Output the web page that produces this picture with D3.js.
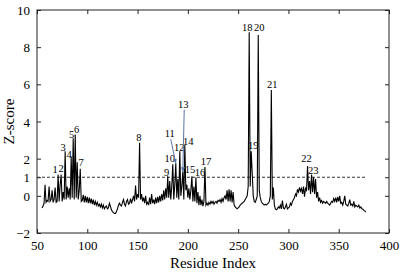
<!DOCTYPE html>
<html>
<head>
<meta charset="utf-8">
<script src="https://cdn.jsdelivr.net/npm/d3@7"></script>
<style>
  body { margin: 0; background: #fff; }
</style>
</head>
<body>
<svg id="chart"></svg>
<script>
const width = 401, height = 274
const serif = "'Liberation Serif'"

// z-score for each residue, starting at residue 55
const firstResidue = 55
const zscore = [
  -0.65,-0.55,-0.4,0.6,-0.35,-0.25,-0.3,0.5,-0.3,-0.2,      // 55
  0.3,-0.35,-0.2,0.45,-0.35,-0.3,1.15,-0.3,0.6,1.15,        // 65
  -0.3,0.2,-0.2,2.4,-0.2,0.5,-0.1,0.4,-0.2,2.1,             // 75
  -0.1,3.1,-0.2,3.3,-0.1,1.8,-0.2,0.3,1.45,-0.3,            // 85
  -0.25,0.05,-0.35,0.0,-0.35,-0.05,-0.4,-0.1,-0.4,-0.15,    // 95
  -0.45,-0.2,-0.5,-0.3,-0.5,-0.35,-0.55,-0.45,-0.6,-0.45,   // 105
  -0.65,-0.5,-0.7,-0.6,-0.55,-0.7,-0.65,-0.4,-0.55,-0.75,   // 115
  -0.85,-0.9,-0.95,-0.95,-0.85,-0.7,-0.5,-0.4,-0.5,-0.55,   // 125
  -0.35,-0.2,-0.45,-0.55,-0.3,-0.2,-0.45,-0.4,-0.15,-0.4,   // 135
  -0.2,0.0,-0.3,0.55,-0.2,0.1,-0.1,2.85,-0.2,0.1,           // 145
  -0.3,-0.1,-0.4,0.0,-0.45,-0.35,-0.5,-0.1,-0.45,0.1,       // 155
  -0.4,-0.2,-0.45,-0.1,-0.4,-0.05,-0.35,0.0,-0.3,0.1,       // 165
  -0.25,0.3,-0.2,0.4,-0.1,1.05,-0.1,0.8,-0.2,0.5,           // 175
  1.7,-0.2,0.6,1.75,-0.1,0.9,-0.2,2.4,0.0,0.5,              // 185
  1.3,-0.2,2.75,0.3,0.6,-0.1,0.4,-0.2,0.3,1.05,             // 195
  -0.3,0.5,-0.3,1.0,-0.4,0.2,-0.5,0.0,-0.5,-0.2,            // 205
  -0.55,-0.3,1.55,-0.5,-0.4,-0.5,-0.35,-0.45,-0.3,-0.4,     // 215
  -0.3,-0.45,-0.35,-0.3,-0.4,-0.25,-0.3,-0.2,-0.35,-0.15,   // 225
  -0.3,-0.1,0.0,-0.2,0.3,-0.3,0.35,-0.3,0.3,-0.35,          // 235
  0.2,-0.5,-0.6,-0.65,-0.7,-0.65,-0.6,-0.5,-0.45,-0.4,      // 245
  -0.35,-0.3,-0.2,-0.1,0.0,0.5,8.8,0.5,2.4,1.2,             // 255
  0.0,-0.3,-0.35,-0.2,0.0,8.65,0.3,-0.1,-0.3,-0.4,          // 265
  -0.45,-0.5,-0.45,-0.5,-0.45,-0.4,-0.3,0.0,5.7,-0.2,       // 275
  0.45,-0.5,-0.7,-0.75,-0.7,-0.6,-0.65,-0.5,-0.7,-0.25,     // 285
  -0.65,-0.7,-0.6,-0.45,-0.7,-0.65,-0.6,-0.4,-0.5,-0.3,     // 295
  -0.2,-0.1,0.1,0.0,0.35,0.2,0.45,0.25,0.4,0.1,             // 305
  0.5,-0.05,0.4,0.3,1.6,0.3,0.8,0.1,1.15,0.2,               // 315
  1.0,0.1,0.9,-0.1,0.2,-0.3,-0.1,-0.35,-0.25,-0.4,          // 325
  -0.3,-0.35,-0.4,-0.3,-0.4,-0.45,-0.5,-0.4,-0.3,-0.35,     // 335
  -0.15,-0.3,-0.1,-0.35,-0.05,-0.3,0.0,-0.4,-0.35,-0.5,     // 345
  -0.3,0.0,-0.45,-0.5,-0.55,-0.4,-0.2,-0.5,-0.45,-0.55,     // 355
  -0.3,-0.6,-0.5,-0.55,-0.6,-0.5,-0.65,-0.6,-0.7,-0.72,     // 365
  -0.78,-0.82,-0.87                                          // 375
]

// labelled peaks (residue index)
const peakResidue = [71,74,78,84,86,88,93,152,180,185,188,192,195,197,204,208,217,261,263,270,283,319,323]
const peakLabel = d3.range(1, 24).map(String)
// label nudges in px [dx, dy from peak top]; 11 and 13 use an arrow
const labelNudge = [[-3,-1],[0,-2],[-2,0],[-2,1],[-1.5,0],[1.5,-1.5],[1,-2.5],[-0.6,-2],[-1,0],[-3,-2],
  [-6,-26],[-0.6,-0.5],[0.4,-64],[3.4,0],[-2,-3],[4,-1.5],[1,-2.3],[-2,-1.4],[2,-2.7],[1,-4],[1,-1.5],[-1,-3.7],[1.7,-0.4]]
const arrowLabels = ["11", "13"]

const xTicks = [50,100,150,200,250,300,350,400]
const yTicks = [-2,0,1,2,4,6,8,10]
const threshold = 1

const margin = {top: 10, right: 12, bottom: 41, left: 37}

const svg = d3.select("#chart")
    .attr("width", width)
    .attr("height", height)

const x = d3.scaleLinear().domain([50, 400]).range([margin.left, width - margin.right])
const y = d3.scaleLinear().domain([-2, 10]).range([height - margin.bottom, margin.top])

const points = zscore.map((v, i) => ({r: firstResidue + i, z: v}))

// frame
svg.append("rect")
    .attr("x", x(50)).attr("y", y(10))
    .attr("width", x(400) - x(50)).attr("height", y(-2) - y(10))
    .attr("fill", "none").attr("stroke", "#222").attr("stroke-width", 1)

// inward ticks on all four sides
let axBottom = svg.append("g").attr("transform", `translate(0,${y(-2)})`)
    .call(d3.axisBottom(x).tickValues(xTicks).tickSizeInner(-4).tickSizeOuter(0).tickPadding(8))
let axTop = svg.append("g").attr("transform", `translate(0,${y(10)})`)
    .call(d3.axisTop(x).tickValues(xTicks).tickSizeInner(-4).tickSizeOuter(0).tickFormat(""))
let axLeft = svg.append("g").attr("transform", `translate(${x(50)},0)`)
    .call(d3.axisLeft(y).tickValues(yTicks).tickSizeInner(-4).tickSizeOuter(0).tickPadding(7))
let axRight = svg.append("g").attr("transform", `translate(${x(400)},0)`)
    .call(d3.axisRight(y).tickValues(yTicks).tickSizeInner(-4).tickSizeOuter(0).tickFormat(""))

for (let g of [axBottom, axTop, axLeft, axRight]) {
    g.select(".domain").remove()
    g.selectAll("line").attr("stroke", "#222")
    g.selectAll("text")
        .style("font-family", serif)
        .style("font-size", "13px")
        .attr("fill", "#000")
}
axLeft.selectAll("text").attr("dy", "0.35em")

// threshold line
svg.append("line")
    .attr("x1", x(50)).attr("x2", x(377))
    .attr("y1", y(threshold)).attr("y2", y(threshold))
    .attr("stroke", "#333").attr("stroke-width", 1)
    .attr("stroke-dasharray", "3,2")

// z-score trace
svg.append("path")
    .datum(points)
    .attr("fill", "none")
    .attr("stroke", "#000")
    .attr("stroke-width", 1.1)
    .attr("stroke-linejoin", "miter")
    .attr("d", d3.line().x(d => x(d.r)).y(d => y(d.z)))

// arrow marker
svg.append("defs").append("marker")
    .attr("id", "arr")
    .attr("viewBox", "0 0 10 10")
    .attr("refX", 9).attr("refY", 5)
    .attr("markerWidth", 5).attr("markerHeight", 5)
    .attr("orient", "auto")
    .append("path").attr("d", "M0,1L10,5L0,9z").attr("fill", "#5a74a8")

// peak labels
let labels = svg.append("g")
    .attr("text-anchor", "middle")
    .attr("fill", "#000")

peakResidue.forEach((r, i) => {
    let px = x(r)
    let py = y(zscore[r - firstResidue])
    let [dx, dy] = labelNudge[i]
    labels.append("text")
        .attr("x", px + dx)
        .attr("y", py + dy)
        .style("font-family", serif)
        .style("font-size", "10.5px")
        .text(peakLabel[i])
    if (arrowLabels.includes(peakLabel[i])) {
        svg.append("line")
            .attr("x1", px + dx + 1).attr("y1", py + dy + 2)
            .attr("x2", px).attr("y2", py)
            .attr("stroke", "#5a74a8").attr("stroke-width", 1)
            .attr("marker-end", "url(#arr)")
    }
})

// axis titles
svg.append("text")
    .attr("x", (x(50) + x(400)) / 2)
    .attr("y", height - 6)
    .attr("text-anchor", "middle")
    .style("font-family", serif)
    .style("font-size", "15px")
    .text("Residue Index")

svg.append("text")
    .attr("transform", `translate(14,${(y(-2) + y(10)) / 2}) rotate(-90)`)
    .attr("text-anchor", "middle")
    .style("font-family", serif)
    .style("font-size", "15px")
    .text("Z-score")
</script>
</body>
</html>
